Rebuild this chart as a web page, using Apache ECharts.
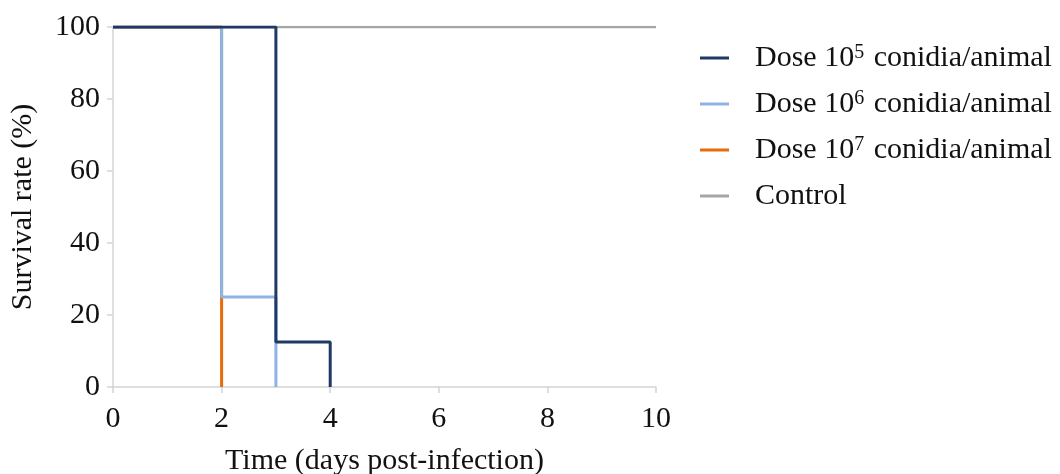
<!DOCTYPE html>
<html><head><meta charset="utf-8">
<script src="https://cdn.jsdelivr.net/npm/echarts@6/dist/echarts.min.js"></script>
<style>html,body{margin:0;padding:0;background:#fff}#c{width:1060px;height:474px}</style>
</head><body><div id="c"></div>
<script>
const seriesNames = ['Dose 10^5 conidia/animal','Dose 10^6 conidia/animal','Dose 10^7 conidia/animal','Control'];
const dose5 = [[0,100],[3,12.5],[4,0]];
const dose6 = [[0,100],[2,25],[3,0]];
const dose7 = [[0,100],[2,0]];
const control = [[0,100],[10,100]];
const colors = ['#1f3864','#8db4e2','#e46c0a','#a6a6a6'];
const FONT = '"Liberation Serif","Times New Roman",serif';

const chart = echarts.init(document.getElementById('c'));
function legendFmt(n){
  const m = n.match(/^(.*10)\^(\d)(.*)$/);
  if(!m) return n;
  return m[1] + '{sup|' + m[2] + '}' + m[3];
}
const axisCol = '#d4d4d4';
chart.setOption({
  animation:false,
  textStyle:{fontFamily:FONT},
  grid:{left:113,right:404,top:27,bottom:87,containLabel:false,outerBoundsMode:'none'},
  legend:{
    orient:'vertical', left:695, top:38, itemGap:12,
    icon:'rect', itemWidth:29, itemHeight:3,
    data:seriesNames,
    formatter:legendFmt,
    textStyle:{fontFamily:FONT,fontSize:30,lineHeight:30,color:'#111',padding:[0,0,0,21],
      rich:{sup:{fontFamily:FONT,fontSize:20,lineHeight:30,color:'#111',verticalAlign:'top',padding:[0,2,14,0]}}}
  },
  xAxis:{type:'value',min:0,max:10,interval:2,
    name:'Time (days post-infection)',nameLocation:'middle',nameGap:59,
    nameTextStyle:{fontFamily:FONT,fontSize:30,color:'#111'},
    axisLine:{show:true,lineStyle:{color:axisCol,width:1.5}},
    axisTick:{show:true,length:6,lineStyle:{color:axisCol,width:1.5}},
    splitLine:{show:false},
    axisLabel:{fontFamily:FONT,fontSize:30,color:'#111',margin:17}
  },
  yAxis:{type:'value',min:0,max:100,interval:20,
    name:'Survival rate (%)',nameLocation:'middle',nameGap:75,nameRotate:90,
    nameTextStyle:{fontFamily:FONT,fontSize:30,color:'#111'},
    axisLine:{show:true,lineStyle:{color:axisCol,width:1.5}},
    axisTick:{show:true,length:6,lineStyle:{color:axisCol,width:1.5}},
    splitLine:{show:false},
    axisLabel:{fontFamily:FONT,fontSize:30,color:'#111',margin:13}
  },
  series:[
    {name:seriesNames[3],type:'line',data:control,showSymbol:false,lineStyle:{color:colors[3],width:2.5},itemStyle:{color:colors[3]},z:1},
    {name:seriesNames[2],type:'line',step:'end',data:dose7,showSymbol:false,lineStyle:{color:colors[2],width:3},itemStyle:{color:colors[2]},z:2},
    {name:seriesNames[1],type:'line',step:'end',data:dose6,showSymbol:false,lineStyle:{color:colors[1],width:3},itemStyle:{color:colors[1]},z:3},
    {name:seriesNames[0],type:'line',step:'end',data:dose5,showSymbol:false,lineStyle:{color:colors[0],width:3},itemStyle:{color:colors[0]},z:4}
  ]
});
</script></body></html>
